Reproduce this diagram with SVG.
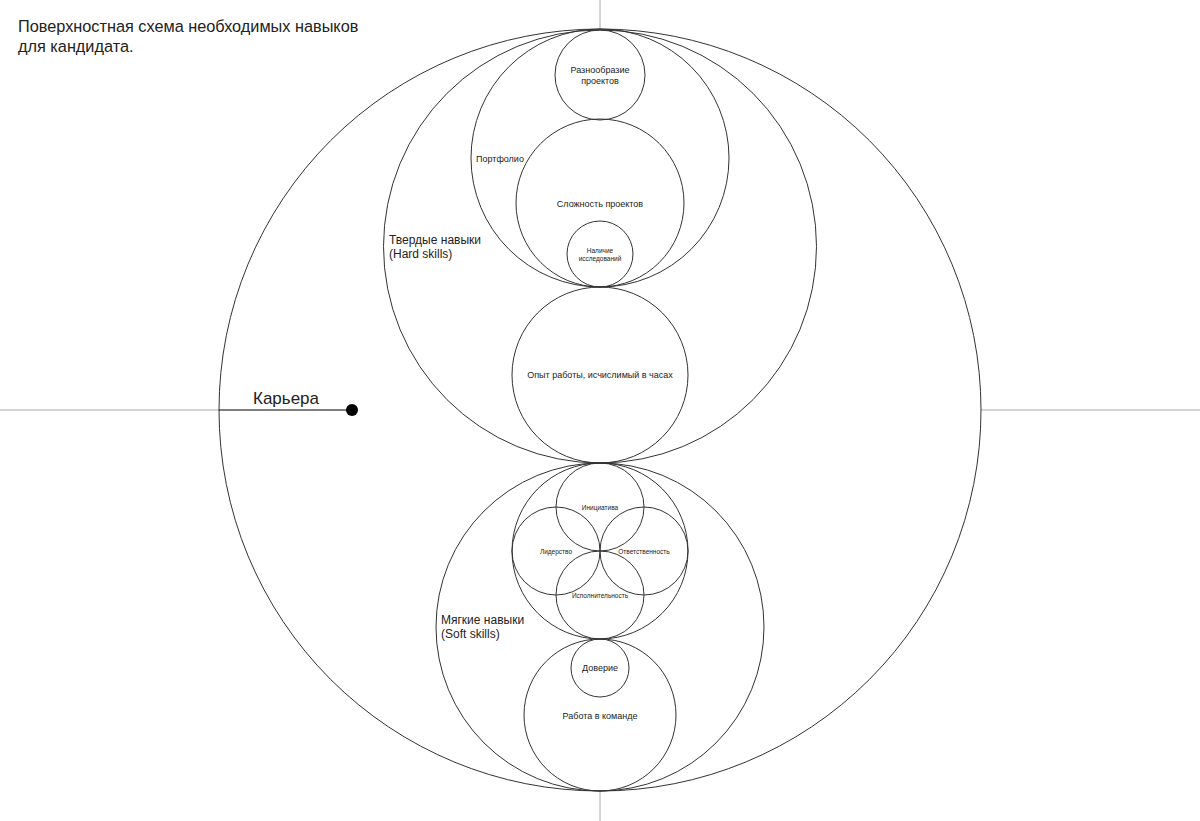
<svg xmlns="http://www.w3.org/2000/svg" width="1200" height="821" viewBox="0 0 1200 821">
<style>
circle.c{fill:none;stroke:#333;stroke-width:1}
text{font-family:"Liberation Sans",Arial,sans-serif;fill:#222}
.s{font-size:9px;text-anchor:middle}
.l{font-size:12px}
.xs{font-size:6.5px;text-anchor:middle}
</style>
<rect width="1200" height="821" fill="#fff"/>
<g id="axes" stroke="#aaa" stroke-width="1">
<line x1="0" y1="410" x2="219" y2="410"/>
<line x1="981" y1="410" x2="1200" y2="410"/>
<line x1="600" y1="0" x2="600" y2="29"/>
<line x1="600" y1="791" x2="600" y2="821"/>
</g>
<text x="18" y="32" font-size="16.3">Поверхностная схема необходимых навыков</text>
<text x="18" y="52" font-size="16.3">для кандидата.</text>
<g id="career"><circle class="c" cx="600" cy="410" r="381"/>
<line x1="219" y1="410" x2="352" y2="410" stroke="#000" stroke-width="1.2"/>
<circle cx="352" cy="410" r="6" fill="#000"/>
<text x="253" y="404" font-size="17">Карьера</text></g>
<g id="hard"><circle class="c" cx="600" cy="246.5" r="216.5"/>
<text class="l" x="389" y="244">Твердые навыки</text><text class="l" x="389" y="258">(Hard skills)</text></g>
<g id="portfolio"><circle class="c" cx="600" cy="158" r="129"/><text x="476" y="162" font-size="9">Портфолио</text></g>
<g id="variety"><circle class="c" cx="600" cy="75" r="45"/><text class="s" x="600" y="73">Разнообразие</text><text class="s" x="600" y="84">проектов</text></g>
<g id="complexity"><circle class="c" cx="600" cy="203" r="84"/><text class="s" x="600" y="207">Сложность проектов</text></g>
<g id="research"><circle class="c" cx="600" cy="254" r="33"/><text class="xs" x="600" y="253" font-size="6">Наличие</text><text class="xs" x="600" y="261" font-size="6">исследований</text></g>
<g id="experience"><circle class="c" cx="600" cy="375" r="88"/><text class="s" x="600" y="378">Опыт работы, исчислимый в часах</text></g>
<g id="soft"><circle class="c" cx="600" cy="627" r="164"/>
<text class="l" x="441" y="624">Мягкие навыки</text><text class="l" x="441" y="638">(Soft skills)</text></g>
<g id="flower"><circle class="c" cx="600" cy="551" r="88"/></g>
<g id="initiative"><circle class="c" cx="600" cy="507" r="44"/><text class="xs" x="600" y="510">Инициатива</text></g>
<g id="responsibility"><circle class="c" cx="644" cy="551" r="44"/><text class="xs" x="644" y="554">Ответственность</text></g>
<g id="execution"><circle class="c" cx="600" cy="595" r="44"/><text class="xs" x="600" y="598">Исполнительность</text></g>
<g id="leadership"><circle class="c" cx="556" cy="551" r="44"/><text class="xs" x="556" y="554">Лидерство</text></g>
<g id="team"><circle class="c" cx="600" cy="715" r="76"/><text class="s" x="600" y="719">Работа в команде</text></g>
<g id="trust"><circle class="c" cx="600" cy="668" r="29"/><text class="s" x="600" y="671">Доверие</text></g>
</svg>
